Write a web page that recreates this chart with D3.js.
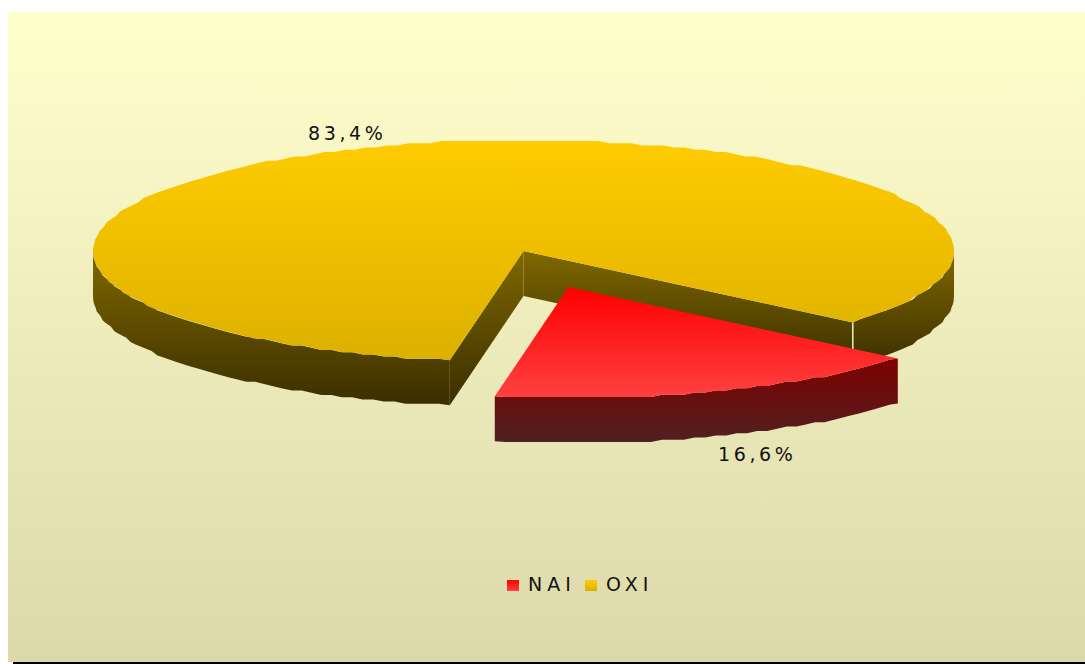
<!DOCTYPE html>
<html>
<head>
<meta charset="utf-8">
<script src="https://cdn.jsdelivr.net/npm/d3@7"></script>
<style>
html, body { margin: 0; padding: 0; background: #fff; overflow: hidden; }
text { font-family: "DejaVu Sans", sans-serif; fill: #111; }
</style>
</head>
<body>
<div id="chart"></div>
<script>
var categories = ["NAI", "OXI"];
var values = [16.6, 83.4];
var valueLabels = ["16,6%", "83,4%"];

var width = 1085, height = 664;
var cx = 523.5, cy = 251, rx = 430.5, ry = 111, depth = 45;
var startDeg = 130.1;
var explode = [[45, 36], [0, 0]];
var labelPos = [[718, 461], [308, 140]];

var topColors = [["#ff0000", "#ff4040"], ["#ffcc00", "#dcb000"]];
var sideColors = [["#7f0000", "#4f2020"], ["#806800", "#3a2e00"]];

var svg = d3.select("#chart").append("svg")
    .attr("width", width)
    .attr("height", height);

var defs = svg.append("defs");

function addGradient(id, colors) {
    var g = defs.append("linearGradient")
        .attr("id", id)
        .attr("x1", 0).attr("y1", 0)
        .attr("x2", 0).attr("y2", 1);
    g.append("stop").attr("offset", "0%").attr("stop-color", colors[0]);
    g.append("stop").attr("offset", "100%").attr("stop-color", colors[1]);
}

addGradient("bg", ["#ffffcc", "#dcd8aa"]);
categories.forEach(function (c, i) {
    addGradient("top" + i, topColors[i]);
    addGradient("side" + i, sideColors[i]);
});

// background panel and the black line under it
svg.append("rect")
    .attr("x", 8).attr("y", 12)
    .attr("width", width - 8).attr("height", 650)
    .attr("fill", "url(#bg)");
svg.append("rect")
    .attr("x", 13).attr("y", 662)
    .attr("width", width - 13).attr("height", 2)
    .attr("fill", "#000");

var pie = d3.pie().sort(null)
    .startAngle(startDeg * Math.PI / 180)
    .endAngle((startDeg + 360) * Math.PI / 180);
var arcs = pie(values);

// the rim of the original is slightly stepped, so snap y to a small grid
function snap(v) { return Math.round(v / 2.2) * 2.2; }

function rim(a0, a1, dx, dy) {
    var n = Math.max(2, Math.round((a1 - a0) / (1.5 * Math.PI / 180)));
    var pts = d3.range(n + 1).map(function (i) {
        var a = a0 + (a1 - a0) * i / n;
        var x = rx * Math.sin(a), y = -ry * Math.cos(a);
        if (i > 0 && i < n) { y = snap(y); }
        return [cx + dx + x, cy + dy + y];
    });
    return pts;
}

var line = d3.line();

function wall(a0, a1, dx, dy) {
    var upper = rim(a0, a1, dx, dy);
    var lower = upper.map(function (p) { return [p[0], p[1] + depth]; }).reverse();
    return line(upper.concat(lower)) + "Z";
}

function flatWall(a, dx, dy) {
    var p = rim(a, a, dx, dy)[0];
    var c = [cx + dx, cy + dy];
    return line([c, p, [p[0], p[1] + depth], [c[0], c[1] + depth]]) + "Z";
}

// OXI
var oxi = arcs[1];
var g = svg.append("g");
var rad = Math.PI / 180;

// visible parts of the outer wall, front half only
g.append("path").attr("d", wall(oxi.startAngle, 270 * rad, 0, 0)).attr("fill", "url(#side1)");
g.append("path").attr("d", wall(450 * rad, oxi.endAngle, 0, 0)).attr("fill", "url(#side1)");

// notch walls
g.append("path").attr("d", flatWall(oxi.endAngle, 0, 0)).attr("fill", "url(#side1)");
g.append("path").attr("d", flatWall(oxi.startAngle, 0, 0)).attr("fill", "url(#side1)");

// thin light seam at the wall joint
var seam = rim(oxi.endAngle, oxi.endAngle, 0, 0)[0];
g.append("line")
    .attr("x1", seam[0]).attr("y1", seam[1])
    .attr("x2", seam[0]).attr("y2", seam[1] + depth)
    .attr("stroke", "#f3efc4").attr("stroke-width", 1.5);

g.append("path")
    .attr("d", line(rim(oxi.startAngle, oxi.endAngle, 0, 0).concat([[cx, cy]])) + "Z")
    .attr("fill", "url(#top1)");

// NAI, pulled out of the pie
var nai = arcs[0];
var dx = explode[0][0], dy = explode[0][1];
var r = svg.append("g");
r.append("path").attr("d", wall(nai.startAngle, nai.endAngle, dx, dy)).attr("fill", "url(#side0)");
r.append("path")
    .attr("d", line(rim(nai.startAngle, nai.endAngle, dx, dy).concat([[cx + dx, cy + dy]])) + "Z")
    .attr("fill", "url(#top0)");

// value labels
svg.selectAll("text.value")
    .data(valueLabels)
    .enter()
    .append("text")
    .attr("class", "value")
    .attr("x", function (d, i) { return labelPos[i][0]; })
    .attr("y", function (d, i) { return labelPos[i][1]; })
    .style("font-size", "19px")
    .style("letter-spacing", "3.6px")
    .text(function (d) { return d; });

// legend
var legendX = d3.scalePoint().domain(categories).range([507, 585]);
var legend = svg.selectAll("g.legend")
    .data(categories)
    .enter()
    .append("g")
    .attr("class", "legend")
    .attr("transform", function (d) { return "translate(" + legendX(d) + ",580)"; });
legend.append("rect")
    .attr("width", 12).attr("height", 11)
    .attr("fill", function (d, i) { return "url(#top" + i + ")"; });
legend.append("text")
    .attr("x", 21).attr("y", 11)
    .style("font-size", "19px")
    .style("letter-spacing", "5px")
    .text(function (d) { return d; });
</script>
</body>
</html>
